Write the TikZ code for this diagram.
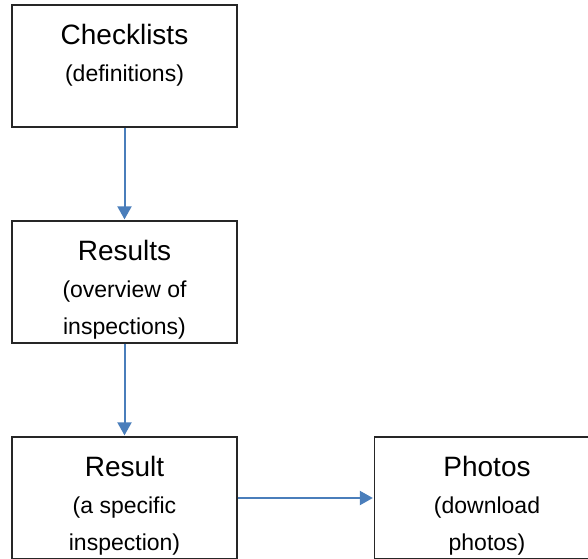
\documentclass[tikz,border=0pt]{standalone}
\usepackage{fontspec}
\setmainfont{Liberation Sans}
\usetikzlibrary{arrows.meta,positioning}
\definecolor{flowblue}{HTML}{4A7EBB}
\tikzset{
  box/.style={draw=black!85, line width=1.3pt, minimum width=225pt, minimum height=122pt, inner sep=0pt},
  lbl/.style={align=center, inner sep=0pt, anchor=north, font=\fontsize{23}{37}\selectfont},
  flow/.style={draw=flowblue, line width=2pt, -{Triangle[width=14pt,length=13pt]}, shorten >=1pt}
}
\newcommand{\ttl}[1]{{\fontsize{28}{37}\selectfont #1}}

\begin{document}
\begin{tikzpicture}[x=1pt,y=-1pt]
            \useasboundingbox (0,0) rectangle (588,558);
            \clip (0,0) rectangle (588,558);
            \node[box] (chk) at (124.5,66) {};
            \node[lbl] (chkt) at ([yshift=-19.5pt]chk.north) {\ttl{Checklists}\\(definitions)};

            \node[box] (res) at (124.5,282) {};
            \node[lbl] (rest) at ([yshift=-19.5pt]res.north) {\ttl{Results}\\(overview of\\inspections)};

            \node[box] (one) at (124.5,498) {};
            \node[lbl] (onet) at ([yshift=-19.5pt]one.north) {\ttl{Result}\\(a specific\\inspection)};

            \node[box] (pho) at (487,498) {};
            \node[lbl] (phot) at ([yshift=-19.5pt]pho.north) {\ttl{Photos}\\(download\\photos)};

            \draw[flow] (chk) -- (res);
            \draw[flow] (res) -- (one);
            \draw[flow] (one) -- (pho);
        \end{tikzpicture}
\end{document}
